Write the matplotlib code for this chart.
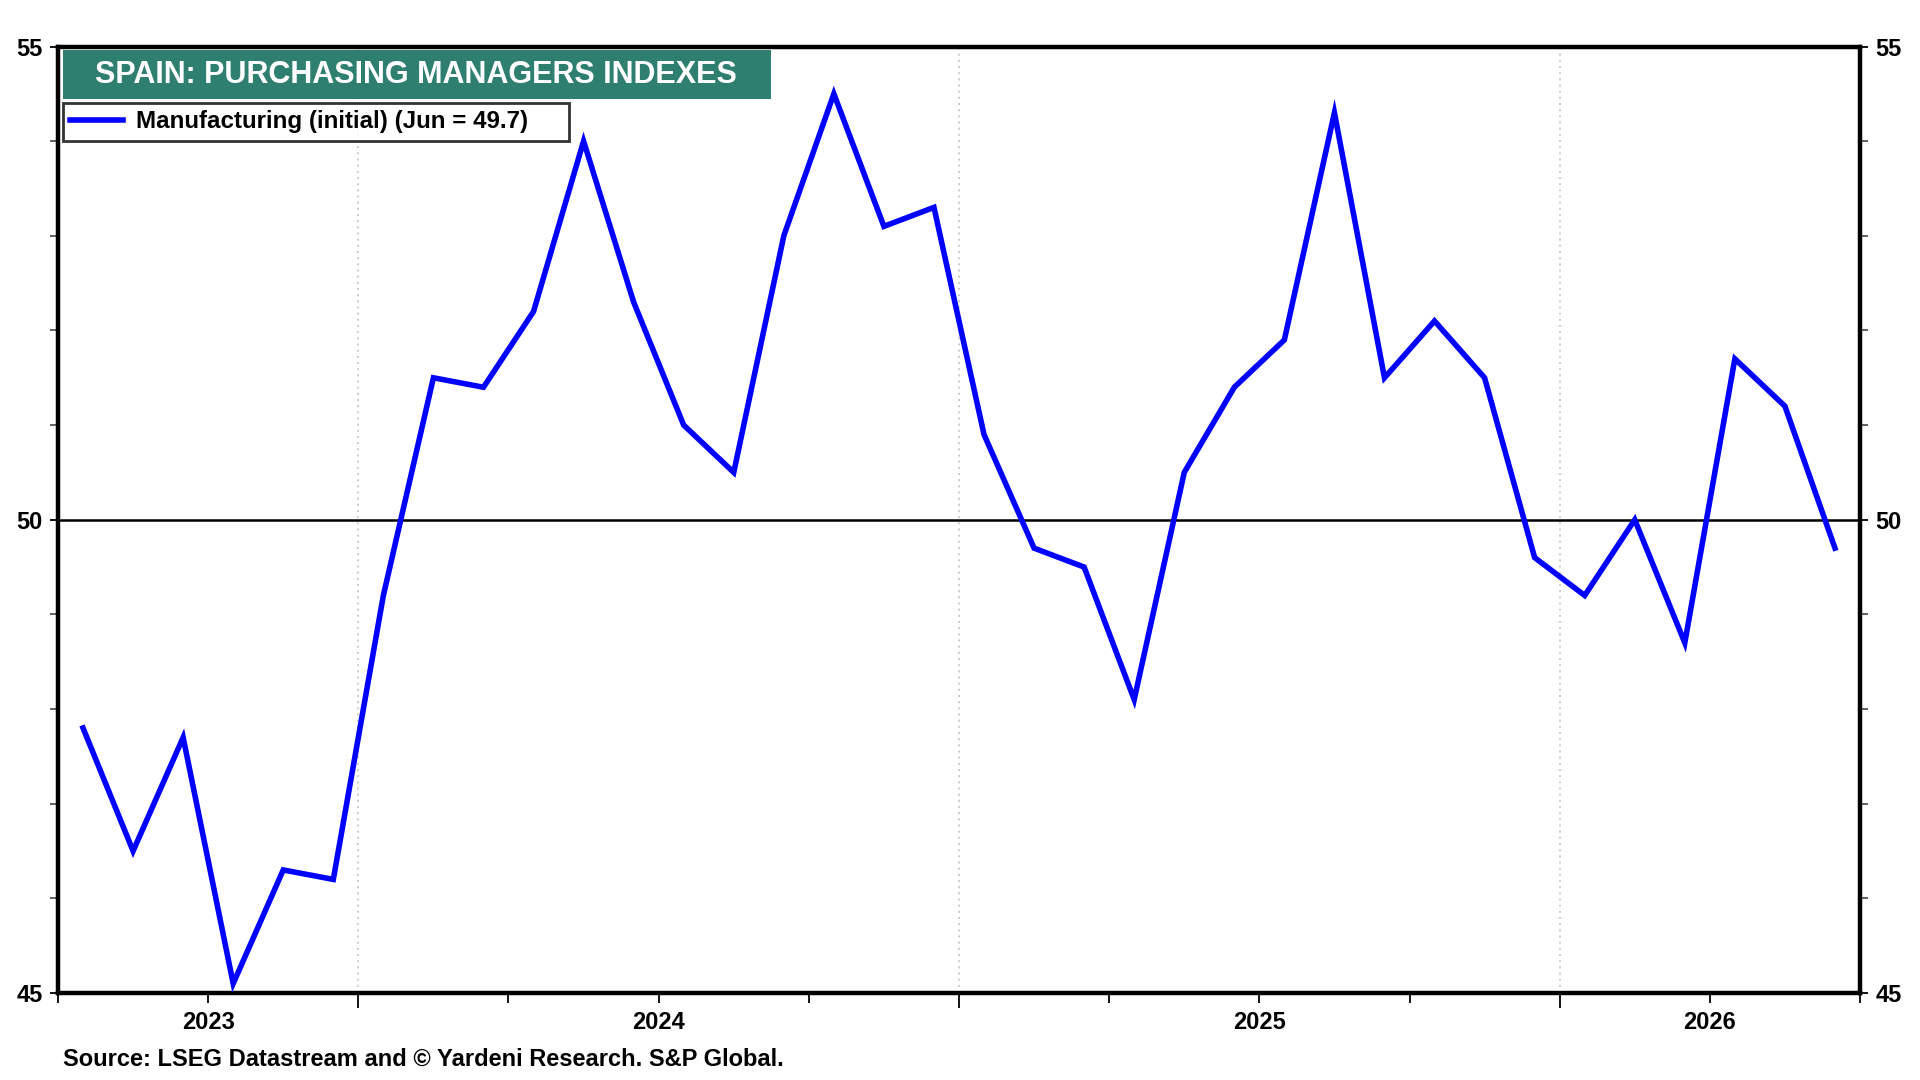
import matplotlib
matplotlib.use("Agg")
import matplotlib.pyplot as plt
from matplotlib.patches import Rectangle
from matplotlib.lines import Line2D
import numpy as np
import pandas as pd

# ---- data ----
months = pd.period_range("2023-07", "2026-06", freq="M")
pmi = [47.8, 46.5, 47.7, 45.1, 46.3, 46.2,
       49.2, 51.5, 51.4, 52.2, 54.0, 52.3,
       51.0, 50.5, 53.0, 54.5, 53.1, 53.3,
       50.9, 49.7, 49.5, 48.1, 50.5, 51.4,
       51.9, 54.3, 51.5, 52.1, 51.5, 49.6,
       49.2, 50.0, 48.7, 51.7, 51.2, 49.7]
title_text = "SPAIN: PURCHASING MANAGERS INDEXES"
legend_label = "Manufacturing (initial) (Jun = 49.7)"
source_text = "Source: LSEG Datastream and \u00a9 Yardeni Research. S&P Global."
y_major = [45, 50, 55]
y_minor = [46, 47, 48, 49, 51, 52, 53, 54]

FONT = ["Liberation Sans", "DejaVu Sans"]
plt.rcParams["font.family"] = FONT
plt.rcParams["font.weight"] = "bold"

W, H = 1920, 1080
fig = plt.figure(figsize=(19.2, 10.8), dpi=100)
ax = fig.add_axes([58 / W, 1 - 993 / H, 1802 / W, 946.5 / H])

x = np.arange(len(months))
ax.plot(x, pmi, color="#0000FF", lw=4.0, solid_joinstyle="miter", zorder=4)
ax.axhline(50, color="black", lw=1.8, zorder=3)

ax.set_xlim(-0.5, len(months) - 0.5)
ax.set_ylim(45, 55)

# year boundaries & labels
years = sorted(set(m.year for m in months))
bounds = [i - 0.5 for i, m in enumerate(months) if m.month == 1]
for b in bounds:
    ax.axvline(b, color="#C4C4C4", lw=1.2, ls=(0, (1.2, 2.5)), zorder=1)
quarter_ticks = [i - 0.5 for i, m in enumerate(months) if m.month in (4, 7, 10)] + [len(months) - 0.5]
ax.set_xticks(quarter_ticks)
ax.set_xticklabels([])
ax.tick_params(axis="x", which="major", length=7, width=1.3, direction="out", color="black")
ax.set_xticks(bounds, minor=True)
ax.tick_params(axis="x", which="minor", length=11, width=1.3, direction="out")
for yr in years:
    idx = [i for i, m in enumerate(months) if m.year == yr]
    c = (min(idx) - 0.5 + max(idx) + 0.5) / 2
    ax.text(c, -0.019, str(yr), transform=ax.get_xaxis_transform(), ha="center", va="top",
            fontsize=17, fontweight="bold")

# y ticks both sides
ax.set_yticks(y_major)
ax.set_yticks(y_minor, minor=True)
ax.tick_params(axis="y", which="both", left=True, right=True, labelleft=True, labelright=True,
               direction="out", length=6, width=1.3, pad=5, labelsize=17)
ax.tick_params(axis="y", which="minor", colors="#555555")
for lab in ax.get_yticklabels():
    lab.set_fontweight("bold")

for s in ax.spines.values():
    s.set_linewidth(3.2)
    s.set_color("black")

# title box
fig.patches.append(Rectangle((63 / W, 1 - 99 / H), 708 / W, 49 / H, transform=fig.transFigure,
                             fc="#2E7F70", ec="none", zorder=6))
fig.text(95 / W, 1 - 75 / H, title_text, ha="left", va="center", fontsize=22,
         fontweight="bold", color="white", zorder=7)

# legend
h = Line2D([], [], color="#0000FF", lw=4.0)
leg = ax.legend([h], [legend_label + "     "], loc="upper left",
                bbox_to_anchor=(5 / 1802, (993 - 103) / 946.5),
                frameon=True, fancybox=False, borderpad=0.3, handlelength=2.2,
                handletextpad=0.5, borderaxespad=0.0,
                prop=dict(weight="bold", size=17.4))
leg.get_frame().set_edgecolor("black")
leg.get_frame().set_linewidth(2.0)
leg.set_zorder(6)

fig.text(63 / W, 1 - 1066 / H, source_text, ha="left", va="baseline", fontsize=17, fontweight="bold")

fig.savefig("out.png", dpi=100)
